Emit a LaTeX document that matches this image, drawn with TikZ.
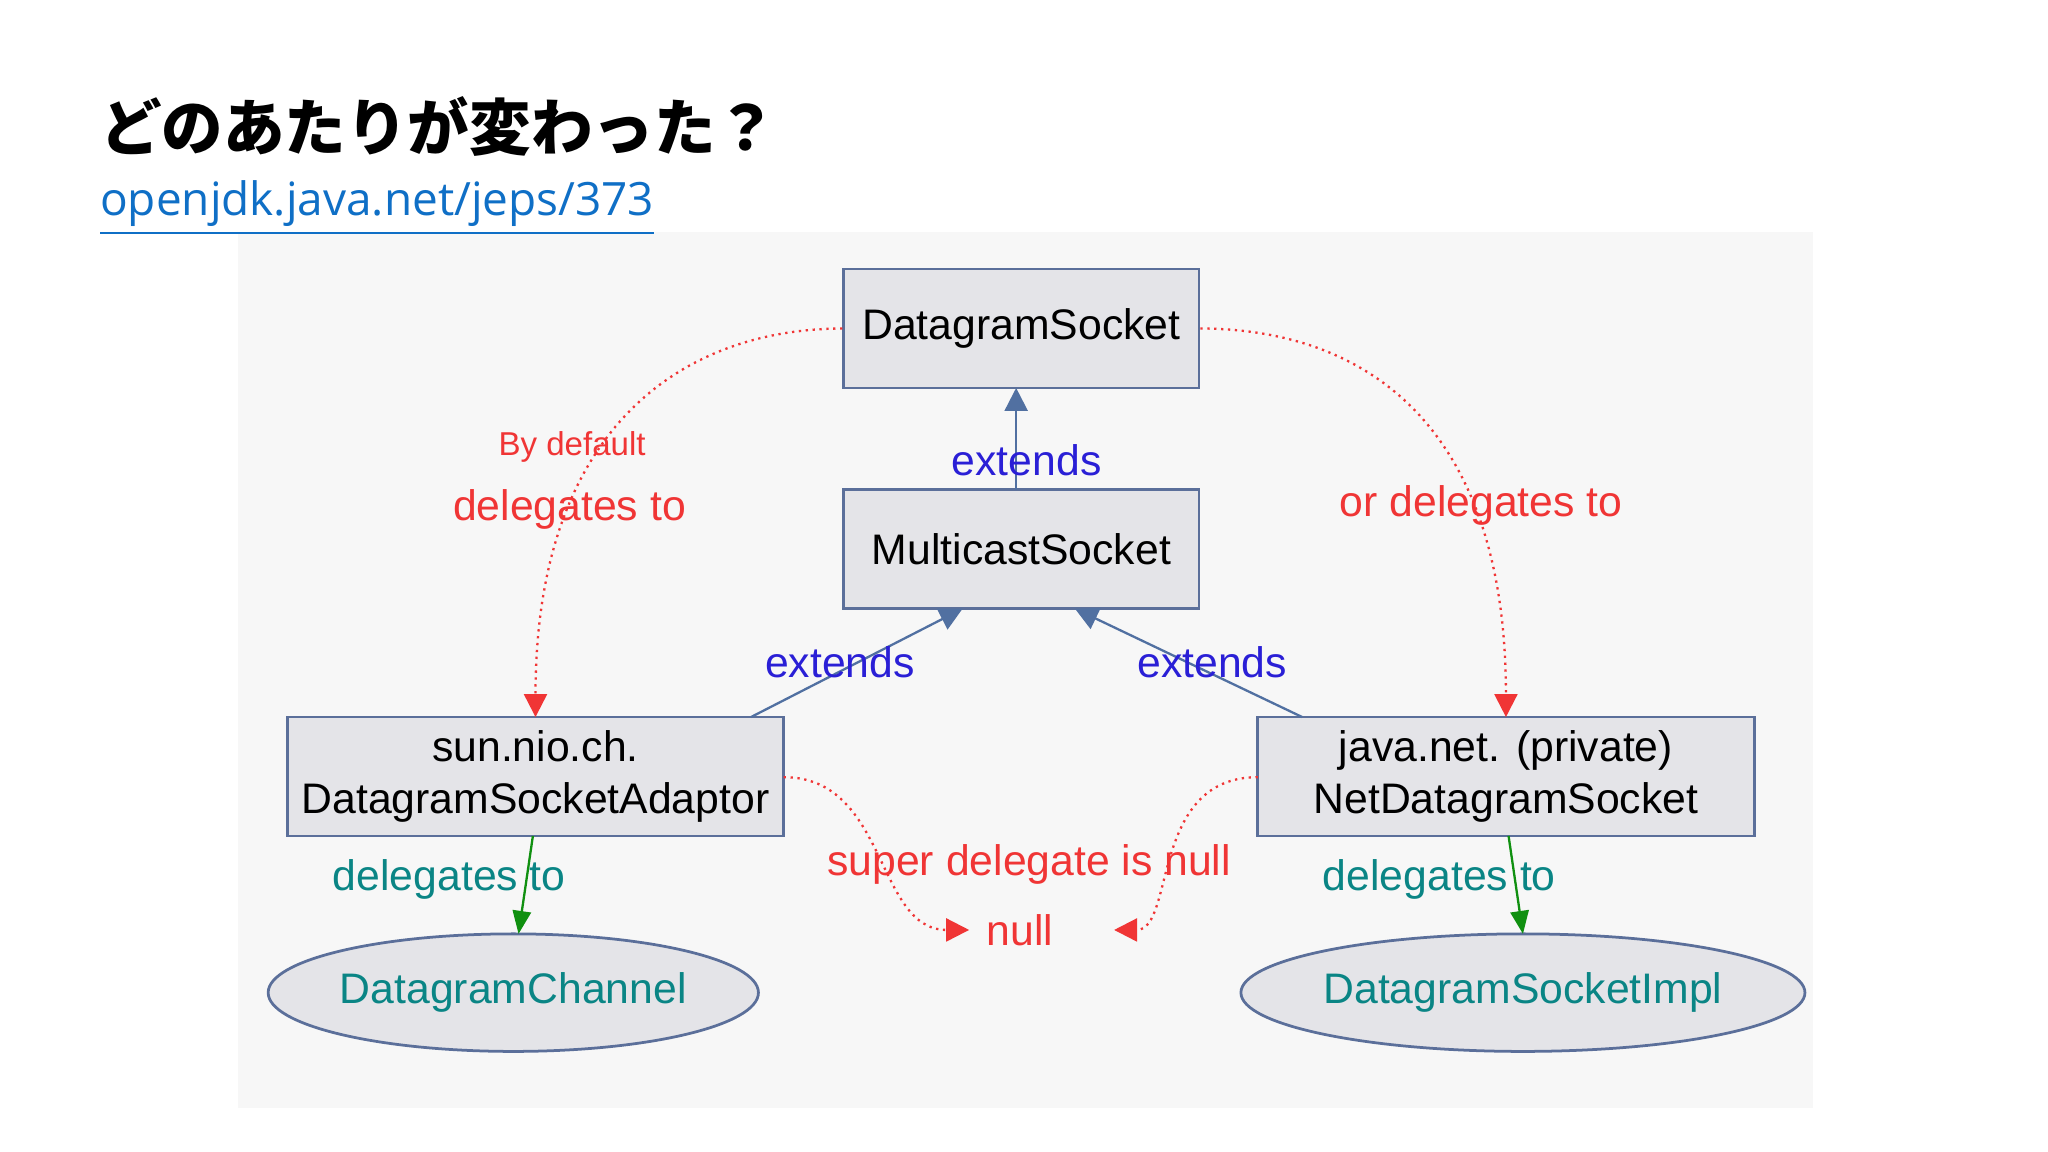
\documentclass[tikz,border=0pt]{standalone}
\usepackage{fontspec}
\setmainfont{Liberation Sans}
\newfontfamily\cjk{Noto Sans CJK JP}
\newfontfamily\linkf{Open Sans}
\usetikzlibrary{arrows.meta,shapes.geometric}
\definecolor{boxfill}{HTML}{E4E4E8}
\definecolor{boxline}{HTML}{5B6F9A}
\definecolor{ext}{HTML}{2A1FD6}
\definecolor{dred}{HTML}{F03535}
\definecolor{teal}{HTML}{0A8585}
\definecolor{blue}{HTML}{3D6AB0}
\definecolor{dgreen}{HTML}{109010}
\definecolor{linkc}{HTML}{0F6FC6}
\begin{document}
\begin{tikzpicture}[x=0.01cm,y=-0.01cm,
  box/.style={draw=boxline,fill=boxfill,line width=0.6pt,minimum width=272*0.01cm,minimum height=91*0.01cm,font=\fontsize{9.3}{11.5}\selectfont,align=center,inner sep=0pt},
  ell/.style={ellipse,draw=boxline,fill=boxfill,line width=0.6pt,minimum width=344*0.01cm,minimum height=90*0.01cm,inner sep=0pt,text=teal,font=\fontsize{9.3}{11}\selectfont},
  lab/.style={font=\fontsize{9.3}{11}\selectfont,inner sep=0pt},
  ext/.style={draw=blue!70!gray,line width=0.5pt,-{Triangle[length=5pt,width=5pt]},shorten >=0pt},
  red/.style={draw=dred,densely dotted,line width=0.5pt,-{Triangle[length=5pt,width=5pt]}},
  grn/.style={draw=dgreen,line width=0.5pt,-{Triangle[length=5pt,width=4pt]}}]
\useasboundingbox (0,0) rectangle (1568,882);
\fill[white] (0,0) rectangle (1568,882);
\fill[black!3] (182,178) rectangle (1388,848);
\node[anchor=base west,inner sep=0pt,font=\cjk\bfseries\fontsize{13.4}{15}\selectfont] (title) at (76,115) {どのあたりが変わった？};
\node[anchor=base west,inner sep=0pt,font=\linkf\fontsize{10}{12}\selectfont,text=linkc] (link) at (76,165) {\underline{openjdk.java.net/jeps/373}};
\node[box] (ds) at (782,251.5) {DatagramSocket};
\node[box] (ms) at (782,420.5) {MulticastSocket};
\node[box,minimum width=380*0.01cm] (ad) at (410,594.5) {sun.nio.ch.\\DatagramSocketAdaptor};
\node[box,minimum width=380*0.01cm] (nd) at (1153,594.5) {java.net. (private)\\NetDatagramSocket};
\node[ell] (dc) at (393,760) {DatagramChannel};
\node[ell] (di) at (1166,760) {DatagramSocketImpl};
\node[lab,text=dred] (null) at (781,712) {null};
% extends
\draw[ext] (778,375) -- (778,297);
\draw[ext] (575,549) -- (737,466);
\draw[ext] (997,549) -- (823,466);
\node[lab,text=ext] (l1) at (786,352) {extends};
\node[lab,text=ext] (l2) at (643,507) {extends};
\node[lab,text=ext] (l3) at (928,507) {extends};
% red delegates
\draw[red] (ds.west) .. controls (520,252) and (410,330) .. (410,549);
\draw[red] (ds.east) .. controls (1050,252) and (1153,330) .. (1153,549);
\node[lab,text=dred,font=\fontsize{7.2}{9}\selectfont] (l4) at (438,342) {By default};
\node[lab,text=dred] (l5) at (436,390) {delegates to};
\node[lab,text=dred] (l6) at (1134,387) {or delegates to};
\draw[red] (600,595) .. controls (680,595) and (670,712) .. (742,712);
\draw[red] (963,595) .. controls (880,595) and (900,712) .. (853,712);
\node[lab,text=dred] (l7) at (788,662) {super delegate is null};
% green
\draw[grn] (408,640) -- (397,715);
\draw[grn] (1155,640) -- (1166,715);
\node[lab,text=teal] (l8) at (344,673) {delegates to};
\node[lab,text=teal] (l9) at (1102,673) {delegates to};
\end{tikzpicture}
\end{document}
